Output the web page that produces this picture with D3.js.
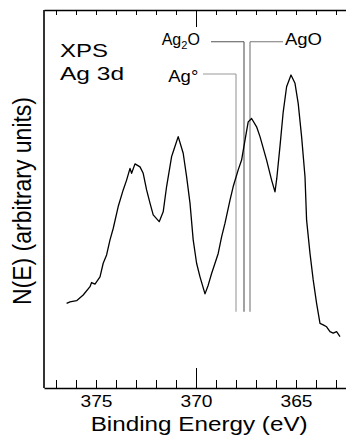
<!DOCTYPE html>
<html>
<head>
  <title>XPS Ag 3d</title>
  <script src="https://d3js.org/d3.v7.min.js"></script>
  <style>
    body { margin: 0; background: #fff; }
    svg text { font-family: "Liberation Sans", Arial, Helvetica, sans-serif; fill: #000; }
  </style>
</head>
<body>
  <div id="chart1"></div>

  <script>
    // spectrum: binding energy (eV) and N(E) in arbitrary units
    const energy = [376.47, 376.30, 375.97, 375.64, 375.30, 375.22, 375.05, 374.80, 374.64, 374.47,
      374.30, 374.14, 373.89, 373.64, 373.47, 373.30, 373.22, 373.05, 372.80, 372.64,
      372.47, 372.30, 372.14, 371.84, 371.64, 371.47, 371.22, 371.14, 370.89, 370.64,
      370.47, 370.30, 370.14, 369.97, 369.80, 369.55, 369.39, 369.22, 369.05, 368.89,
      368.72, 368.55, 368.30, 368.14, 367.89, 367.72, 367.55, 367.39, 367.22, 366.97,
      366.80, 366.47, 366.22, 366.05, 365.96, 365.80, 365.64, 365.47, 365.25, 365.05,
      364.89, 364.72, 364.55, 364.47, 364.30, 364.14, 363.97, 363.80, 363.64, 363.47,
      363.30, 363.14, 362.97, 362.80];
    const counts = [22.4, 22.8, 23.1, 24.6, 26.8, 27.9, 27.5, 29.4, 33.0, 35.2,
      39.2, 42.2, 48.0, 52.4, 55.0, 58.1, 56.8, 59.3, 58.5, 56.8,
      52.4, 48.9, 45.8, 44.0, 46.6, 53.3, 61.2, 62.5, 66.5, 62.1,
      55.9, 48.9, 39.2, 33.0, 29.4, 24.9, 27.2, 30.3, 33.0, 35.6,
      40.0, 43.6, 49.7, 53.3, 57.7, 60.3, 65.6, 70.4, 71.3, 69.1,
      66.5, 60.3, 55.0, 51.9, 55.5, 64.0, 73.0, 79.7, 82.8, 80.6,
      75.3, 66.5, 55.9, 44.4, 35.6, 28.6, 22.4, 17.1, 16.7, 16.2,
      14.9, 14.5, 14.9, 13.6];

    // reference lines
    const refNames = ["Ag°", "Ag2O", "AgO"];
    const refEnergy = [368.0, 367.6, 367.3];

    const tickValues = d3.range(363, 378);
    const tickLabels = [375, 370, 365];

    const margin = { top: 10, right: 0, bottom: 49, left: 44 };
    const width = 346 - margin.left - margin.right;
    const height = 437 - margin.top - margin.bottom;

    const xScale = d3.scaleLinear().domain([377.6, 362.5]).range([0, width]);
    const yScale = d3.scaleLinear().domain([0, 100]).range([height, 0]);

    const svg = d3.select("#chart1")
      .append("svg")
      .attr("width", 346)
      .attr("height", 437)
      .append("g")
      .attr("transform", "translate(" + margin.left + "," + margin.top + ")");

    // frame
    svg.append("line")
      .attr("x1", 0).attr("x2", 0).attr("y1", 0).attr("y2", height)
      .attr("stroke", "#000").attr("stroke-width", 1.6);

    const bottomAxis = svg.append("g")
      .attr("transform", "translate(0," + height + ")")
      .call(d3.axisBottom(xScale).tickValues(tickValues).tickSizeInner(-8).tickSizeOuter(0)
        .tickFormat(d => tickLabels.includes(d) ? d : ""));

    const topAxis = svg.append("g")
      .call(d3.axisTop(xScale).tickValues(tickValues).tickSizeInner(-5).tickSizeOuter(0)
        .tickFormat(""));

    [bottomAxis, topAxis].forEach(ax => {
      ax.select(".domain").attr("stroke", "#000").attr("stroke-width", 1.6);
      ax.selectAll(".tick line").attr("stroke", "#000").attr("stroke-width", 1);
    });
    bottomAxis.selectAll(".tick").filter(d => d === 370).select("line").attr("y2", -20);
    topAxis.selectAll(".tick").filter(d => d === 370).select("line").attr("y2", 17);

    bottomAxis.selectAll(".tick text")
      .attr("y", 19)
      .attr("dy", null)
      .style("font-size", "16px")
      .attr("textLength", d => tickLabels.includes(d) ? 32 : null)
      .attr("lengthAdjust", "spacingAndGlyphs");

    // reference lines with leaders
    const leaderTop = [74, 41.7, 41.7];
    const lineBottom = 301.7;
    const refColor = ["#999", "#555", "#777"];
    refEnergy.forEach((e, i) => {
      const x = xScale(e);
      svg.append("line")
        .attr("x1", x).attr("x2", x)
        .attr("y1", leaderTop[i] - margin.top).attr("y2", lineBottom)
        .attr("stroke", refColor[i]).attr("stroke-width", 1.1);
      const x2 = i === 2 ? x + 33 : x - 33;
      svg.append("line")
        .attr("x1", x).attr("x2", x2)
        .attr("y1", leaderTop[i] - margin.top).attr("y2", leaderTop[i] - margin.top)
        .attr("stroke", refColor[i]).attr("stroke-width", 1.1);
    });

    // labels of the reference lines
    const agLabel = svg.append("text")
      .attr("x", 168.3 - margin.left).attr("y", 81.7 - margin.top)
      .style("font-size", "16px")
      .attr("textLength", 30).attr("lengthAdjust", "spacingAndGlyphs")
      .text(refNames[0]);

    const ag2o = svg.append("text")
      .attr("x", 161.7 - margin.left).attr("y", 44.5 - margin.top)
      .style("font-size", "16px");
    ag2o.append("tspan").text("Ag");
    ag2o.append("tspan").attr("dy", 4).style("font-size", "11px").text("2");
    ag2o.append("tspan").attr("dy", -4).text("O");

    svg.append("text")
      .attr("x", 285 - margin.left).attr("y", 45 - margin.top)
      .style("font-size", "16px")
      .attr("textLength", 37).attr("lengthAdjust", "spacingAndGlyphs")
      .text(refNames[2]);

    // spectrum
    const spectrum = energy.map((e, i) => [e, counts[i]]);
    svg.append("path")
      .datum(spectrum)
      .attr("fill", "none")
      .attr("stroke", "#000")
      .attr("stroke-width", 1.3)
      .attr("stroke-linejoin", "round")
      .attr("d", d3.line().x(d => xScale(d[0])).y(d => yScale(d[1])));

    // titles
    svg.append("text")
      .attr("x", 60 - margin.left).attr("y", 56.7 - margin.top)
      .style("font-size", "18.6px")
      .attr("textLength", 48).attr("lengthAdjust", "spacingAndGlyphs")
      .text("XPS");
    svg.append("text")
      .attr("x", 60 - margin.left).attr("y", 80 - margin.top)
      .style("font-size", "18.6px")
      .attr("textLength", 64).attr("lengthAdjust", "spacingAndGlyphs")
      .text("Ag 3d");

    svg.append("text")
      .attr("x", 90.7 - margin.left)
      .attr("y", 430.7 - margin.top)
      .style("font-size", "20.5px")
      .attr("textLength", 217).attr("lengthAdjust", "spacingAndGlyphs")
      .text("Binding Energy (eV)");

    svg.append("text")
      .attr("transform", "translate(" + (31 - margin.left) + "," + (305 - margin.top) + ") rotate(-90)")
      .style("font-size", "25px")
      .attr("textLength", 208).attr("lengthAdjust", "spacingAndGlyphs")
      .text("N(E) (arbitrary units)");
  </script>
</body>
</html>
